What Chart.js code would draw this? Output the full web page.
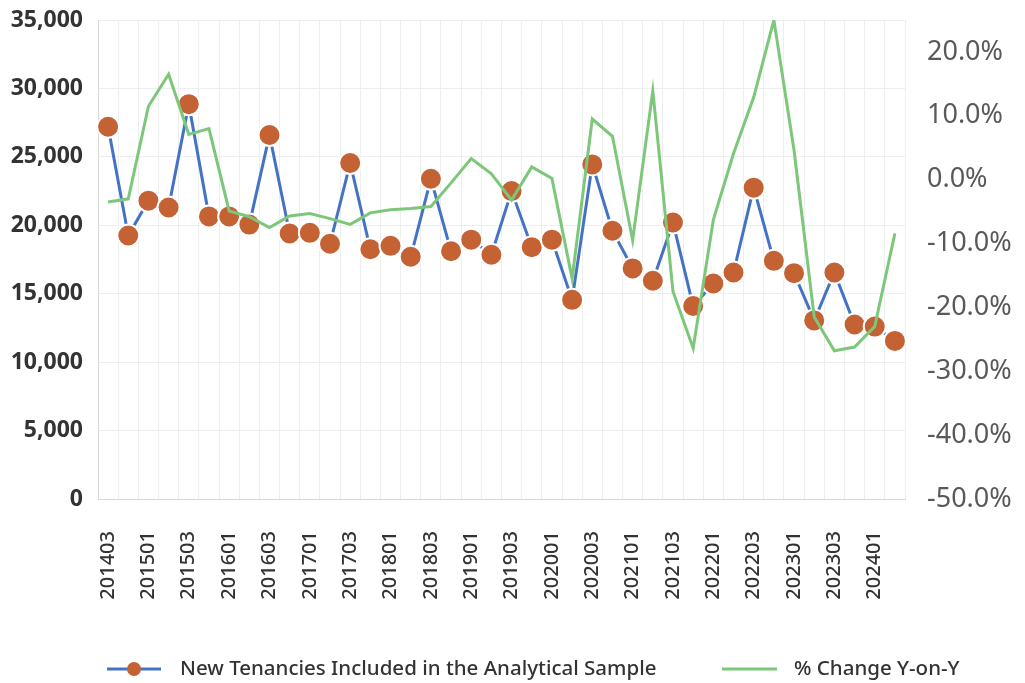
<!DOCTYPE html>
<html>
<head>
<meta charset="utf-8">
<script src="https://cdn.jsdelivr.net/npm/chart.js@4.4.0/dist/chart.umd.min.js"></script>
<style>
  body { margin: 0; background: #fff; }
  #wrap { width: 1025px; height: 683px; position: relative; }
</style>
</head>
<body>
<div id="wrap"><canvas id="chart"></canvas></div>
<script>
// quarters, 2014 Q3 to 2024 Q2
const quarters = [
  '201403','201404','201501','201502','201503','201504','201601','201602',
  '201603','201604','201701','201702','201703','201704','201801','201802',
  '201803','201804','201901','201902','201903','201904','202001','202002',
  '202003','202004','202101','202102','202103','202104','202201','202202',
  '202203','202204','202301','202302','202303','202304','202401','202402'
];

// new tenancies in the analytical sample
const tenancies = [
  27200, 19250, 21800, 21300, 28850, 20650, 20650, 20050,
  26600, 19400, 19450, 18650, 24550, 18250, 18500, 17700,
  23400, 18100, 18950, 17850, 22500, 18400, 18950, 14550,
  24450, 19600, 16850, 15950, 20200, 14100, 15750, 16550,
  22750, 17400, 16500, 13050, 16550, 12750, 12600, 11550
];

// % change year on year
const yoyChange = [
  -0.035, -0.030, 0.115, 0.165, 0.071, 0.080, -0.049, -0.058,
  -0.075, -0.057, -0.053, -0.061, -0.070, -0.052, -0.047, -0.045,
  -0.042, -0.005, 0.033, 0.009, -0.032, 0.020, 0.002, -0.155,
  0.095, 0.068, -0.095, 0.139, -0.175, -0.264, -0.063, 0.041,
  0.129, 0.250, 0.046, -0.215, -0.268, -0.262, -0.230, -0.084
];

const seriesNames = ['New Tenancies Included in the Analytical Sample', '% Change Y-on-Y'];

const BLUE = '#4472C4';
const ORANGE = '#C46234';
const GREEN = '#7DC77A';
const FONT = '"Noto Sans", "Open Sans", sans-serif';

// legend under the x axis, drawn by hand to get the line + dot marker
const bottomLegend = {
  id: 'bottomLegend',
  afterDraw(chart) {
    const ctx = chart.ctx;
    const y = 669;
    ctx.save();
    ctx.lineWidth = 3;

    // first item
    ctx.strokeStyle = BLUE;
    ctx.beginPath();
    ctx.moveTo(107, y);
    ctx.lineTo(161, y);
    ctx.stroke();
    ctx.fillStyle = ORANGE;
    ctx.beginPath();
    ctx.arc(134, y, 7, 0, Math.PI * 2);
    ctx.fill();

    // second item
    ctx.strokeStyle = GREEN;
    ctx.beginPath();
    ctx.moveTo(722, y);
    ctx.lineTo(777, y);
    ctx.stroke();

    ctx.font = '500 20.5px ' + FONT;
    ctx.fillStyle = '#333333';
    ctx.textBaseline = 'middle';
    ctx.textAlign = 'left';
    ctx.fillText(seriesNames[0], 180, y);
    ctx.fillText(seriesNames[1], 794, y);
    ctx.restore();
  }
};

new Chart(document.getElementById('chart'), {
  type: 'line',
  data: {
    labels: quarters,
    datasets: [
      {
        label: seriesNames[1],
        data: yoyChange,
        yAxisID: 'y1',
        borderColor: GREEN,
        borderWidth: 3,
        pointRadius: 0,
        tension: 0,
        order: 0
      },
      {
        label: seriesNames[0],
        data: tenancies,
        yAxisID: 'y',
        borderColor: BLUE,
        borderWidth: 3,
        pointRadius: 11,
        pointBackgroundColor: ORANGE,
        pointBorderColor: '#ffffff',
        pointBorderWidth: 2,
        tension: 0,
        order: 1
      }
    ]
  },
  plugins: [bottomLegend],
  options: {
    responsive: true,
    maintainAspectRatio: false,
    animation: false,
    layout: { padding: { top: 20, left: 0, right: 0, bottom: 0 } },
    plugins: {
      legend: { display: false },
      tooltip: { enabled: false }
    },
    scales: {
      x: {
        offset: true,
        grid: { offset: true, color: '#eeeeee', drawTicks: false },
        border: { color: '#d9d9d9' },
        ticks: {
          autoSkip: false,
          maxRotation: 90,
          minRotation: 90,
          padding: 32,
          color: '#333333',
          font: { family: FONT, size: 20, weight: '500' },
          callback: function(val, index) {
            return index % 2 === 0 ? this.getLabelForValue(val) : '';
          }
        },
        afterFit: (scale) => {
          scale.height = 184;
          scale.paddingLeft = 0;
          scale.paddingRight = 0;
        }
      },
      y: {
        position: 'left',
        min: 0,
        max: 35000,
        grid: { color: '#eeeeee', drawTicks: false },
        border: { color: '#d9d9d9' },
        ticks: {
          stepSize: 5000,
          padding: 15,
          color: '#333333',
          font: { family: FONT, size: 23, weight: 'bold' },
          callback: (v) => v.toLocaleString('en-US')
        },
        afterFit: (scale) => {
          scale.width = 98;
          scale.paddingTop = 0;
          scale.paddingBottom = 0;
        }
      },
      y1: {
        position: 'right',
        min: -0.5,
        max: 0.25,
        grid: { display: false, drawTicks: false },
        border: { display: false },
        ticks: {
          stepSize: 0.1,
          padding: 22,
          color: '#595959',
          font: { family: FONT, size: 27 },
          callback: (v) => (v * 100).toFixed(1) + '%'
        },
        afterBuildTicks: (scale) => {
          scale.ticks = scale.ticks.filter(t => t.value < 0.2001);
        },
        afterFit: (scale) => {
          scale.width = 120;
          scale.paddingTop = 0;
          scale.paddingBottom = 0;
        }
      }
    }
  }
});
</script>
</body>
</html>
